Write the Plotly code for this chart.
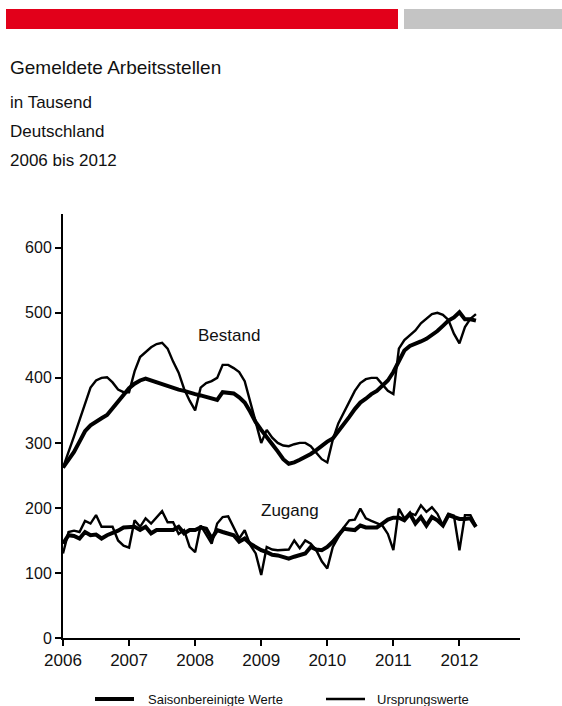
import plotly.graph_objects as go

# Monthly data, Jan 2006 - Apr 2012 (in thousands)
start_year = 2006
n_months = 76
months = [start_year + i / 12 for i in range(n_months)]

bestand_sa = [
    262, 274, 286, 302, 318, 327, 333, 338, 343, 353, 364, 373,
    384, 391, 396, 399, 396, 393, 390, 387, 384, 382, 380, 377,
    375, 373, 371, 368, 366, 378, 377, 376, 370, 362, 348, 332,
    320, 310, 298, 287, 275, 268, 270, 274, 278, 283, 289, 296,
    302, 307, 318, 327, 340, 352, 362, 368, 375, 380, 388, 396,
    409, 424, 442, 449, 452, 456, 460, 466, 472, 480, 488, 493,
    501, 490, 490, 488,
]
bestand_orig = [
    262, 285, 310, 335, 360, 385, 396, 400, 401, 393, 382, 378,
    378, 410, 432, 440, 447, 452, 454, 445, 425, 408, 383, 365,
    350, 385, 392, 395, 400, 420, 420, 415, 409, 395, 365, 332,
    300, 320, 308, 300, 296, 295, 298, 300, 300, 295, 285, 275,
    270, 305, 330, 347, 364, 380, 392, 398, 400, 400, 390, 380,
    375, 445, 458, 466, 473, 484, 491, 498, 500, 497, 489, 468,
    453, 478, 491, 498,
]
zugang_sa = [
    145, 158, 157, 153, 163, 158, 159, 153, 158, 161, 165, 170,
    171, 171, 166, 171, 161, 166, 166, 166, 166, 171, 161, 166,
    166, 170, 168, 153, 166, 163, 160, 158, 148, 153, 145, 140,
    135, 132, 128, 127, 125, 122, 125, 128, 130, 140, 136, 135,
    140, 148, 158, 168, 167, 166, 173, 170, 170, 170, 176, 182,
    185, 185, 181, 191, 176, 186, 173, 186, 181, 173, 189, 186,
    183, 183, 184, 171,
]
zugang_orig = [
    130, 163, 165, 163, 180, 176, 189, 171, 171, 171, 150, 142,
    139, 181, 171, 184, 176, 185, 195, 178, 178, 160, 166, 140,
    132, 173, 158, 145, 176, 186, 187, 171, 153, 166, 143, 130,
    97, 140, 136, 135, 135, 136, 150, 138, 150, 145, 135, 118,
    107, 140, 155, 170, 181, 182, 199, 184, 180, 176, 173, 160,
    135, 199, 184, 192, 189, 204, 194, 201, 191, 173, 191, 188,
    135, 189, 189, 172,
]

year_ticks = [2006, 2007, 2008, 2009, 2010, 2011, 2012]
year_labels = ["2006", "2007", "2008", "2009", "2010", "2011", "2012"]
y_ticks = [0, 100, 200, 300, 400, 500, 600]
y_labels = ["0", "100", "200", "300", "400", "500", "600"]

title = "Gemeldete Arbeitsstellen"
subtitles = ["in Tausend", "Deutschland", "2006 bis 2012"]
legend_labels = ["Saisonbereinigte Werte", "Ursprungswerte"]
series_labels = ["Bestand", "Zugang"]

FONT = "Liberation Sans, Arial, sans-serif"
THICK = 4
THIN = 2.4

fig = go.Figure()
fig.add_trace(go.Scatter(x=months, y=bestand_orig, mode="lines",
                         line=dict(color="black", width=THIN), showlegend=False))
fig.add_trace(go.Scatter(x=months, y=zugang_orig, mode="lines",
                         line=dict(color="black", width=THIN), showlegend=False))
fig.add_trace(go.Scatter(x=months, y=bestand_sa, mode="lines",
                         line=dict(color="black", width=THICK), showlegend=False))
fig.add_trace(go.Scatter(x=months, y=zugang_sa, mode="lines",
                         line=dict(color="black", width=THICK), showlegend=False))

L, R, T, B = 63, 42, 214, 68
W, H = 562, 706
pw, ph = W - L - R, H - T - B


def px(xp):
    return (xp - L) / pw


def py(yp):
    return (H - B - yp) / ph


shapes = [
    dict(type="rect", xref="paper", yref="paper", x0=px(6), x1=px(398),
         y0=py(29), y1=py(9), fillcolor="#E2001A", line=dict(width=0)),
    dict(type="rect", xref="paper", yref="paper", x0=px(404), x1=px(562),
         y0=py(29), y1=py(9), fillcolor="#C4C4C4", line=dict(width=0)),
    dict(type="line", xref="paper", yref="paper", x0=px(95), x1=px(134),
         y0=py(699), y1=py(699), line=dict(color="black", width=THICK)),
    dict(type="line", xref="paper", yref="paper", x0=px(326), x1=px(365),
         y0=py(699), y1=py(699), line=dict(color="black", width=THIN)),
]

annotations = [
    dict(text=title, xref="paper", yref="paper", x=px(8), y=py(67),
         xanchor="left", yanchor="middle", showarrow=False,
         font=dict(size=19, color="#111", family=FONT)),
]
for i, s in enumerate(subtitles):
    annotations.append(dict(text=s, xref="paper", yref="paper", x=px(8),
                            y=py(102 + 29 * i), xanchor="left", yanchor="middle",
                            showarrow=False, font=dict(size=17, color="#111", family=FONT)))
annotations += [
    dict(text=series_labels[0], x=2008.506, y=465, xref="x", yref="y",
         showarrow=False, xanchor="center", yanchor="middle",
         font=dict(size=17, color="#111", family=FONT)),
    dict(text=series_labels[1], x=2009.43, y=196, xref="x", yref="y",
         showarrow=False, xanchor="center", yanchor="middle",
         font=dict(size=17, color="#111", family=FONT)),
    dict(text=legend_labels[0], xref="paper", yref="paper", x=px(146), y=py(699),
         xanchor="left", yanchor="middle", showarrow=False,
         font=dict(size=13, color="#111", family=FONT)),
    dict(text=legend_labels[1], xref="paper", yref="paper", x=px(375), y=py(699),
         xanchor="left", yanchor="middle", showarrow=False,
         font=dict(size=13, color="#111", family=FONT)),
]

fig.update_layout(
    width=W, height=H,
    margin=dict(l=L, r=R, t=T, b=B),
    paper_bgcolor="white", plot_bgcolor="white",
    shapes=shapes, annotations=annotations,
    showlegend=False,
    font=dict(family=FONT, color="#111"),
)
fig.update_xaxes(
    range=[2006, 2012 + 11 / 12], tickvals=year_ticks, ticktext=year_labels,
    showgrid=False, zeroline=False, showline=True, linecolor="black", linewidth=2,
    ticks="outside", ticklen=6, tickwidth=2, tickcolor="black",
    tickfont=dict(size=17, family=FONT, color="#111"),
)
fig.update_yaxes(
    range=[0, 652], tickvals=y_ticks, ticktext=y_labels,
    showgrid=False, zeroline=False, showline=True, linecolor="black", linewidth=2,
    ticks="outside", ticklen=6, tickwidth=2, tickcolor="black",
    tickfont=dict(size=16, family=FONT, color="#111"),
)

fig.write_html("out.html", config={"displayModeBar": False},
               post_script="document.body.style.margin='0';")
